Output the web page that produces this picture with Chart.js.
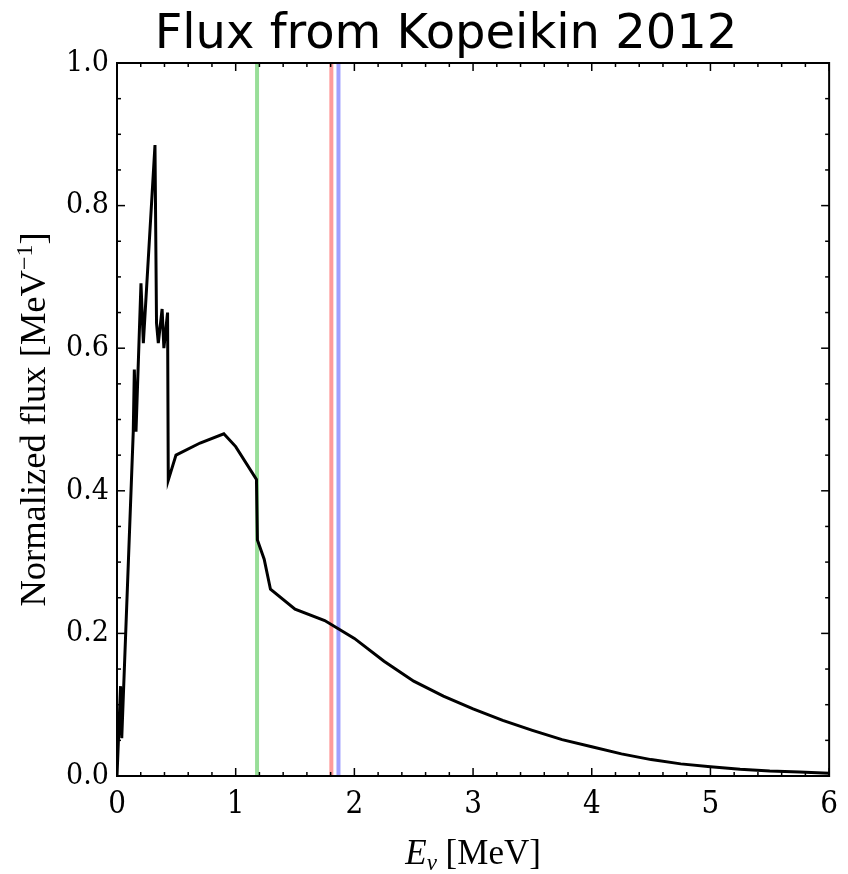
<!DOCTYPE html>
<html>
<head>
<meta charset="utf-8">
<title>Flux from Kopeikin 2012</title>
<script src="https://cdn.jsdelivr.net/npm/chart.js@4.4.1/dist/chart.umd.min.js"></script>
<style>
  html, body { margin: 0; padding: 0; background: #fff; }
  canvas { display: block; }
</style>
</head>
<body>
<canvas id="fluxChart" width="848" height="874"></canvas>
<script>
// neutrino energy [MeV] and normalized flux
const energy = [0, 0.03, 0.04, 0.137, 0.146, 0.16, 0.202, 0.222, 0.32, 0.333, 0.348, 0.38, 0.395, 0.426, 0.432,
  0.497, 0.7, 0.9, 1.0, 1.175, 1.183, 1.24, 1.293, 1.5, 1.75, 2.0, 2.25, 2.5, 2.75, 3.0, 3.25, 3.5, 3.75,
  4.0, 4.25, 4.5, 4.75, 5.0, 5.25, 5.5, 5.75, 6.0];
const flux = [0, 0.126, 0.053, 0.483, 0.57, 0.483, 0.691, 0.607, 0.885, 0.635, 0.607, 0.655, 0.600, 0.650, 0.415,
  0.450, 0.467, 0.480, 0.462, 0.416, 0.331, 0.304, 0.262, 0.234, 0.218, 0.193, 0.161, 0.133, 0.112, 0.094, 0.078, 0.064, 0.051,
  0.041, 0.031, 0.023, 0.017, 0.013, 0.0095, 0.007, 0.0055, 0.004];

// vertical marker lines
const markerEnergies = [1.18, 1.806, 1.866];
const markerColors = ['rgb(152,222,152)', 'rgb(255,155,155)', 'rgb(160,160,255)'];

const xTicks = [0, 1, 2, 3, 4, 5, 6];
const yTicks = [0.0, 0.2, 0.4, 0.6, 0.8, 1.0];
const xMinorStep = 0.2;
const yMinorStep = 0.05;

const curve = energy.map((e, i) => ({ x: e, y: flux[i] }));

const markerSets = markerEnergies.map((e, i) => ({
  data: [{ x: e, y: 0 }, { x: e, y: 1 }],
  borderColor: markerColors[i],
  borderWidth: 4,
  pointRadius: 0,
  order: 2
}));

const tickFont = '"DejaVu Serif Condensed", "DejaVu Serif"';

// inward ticks on all four sides, box, title and axis titles
const frameTicks = {
  id: 'frameTicks',
  afterDatasetsDraw(chart) {
    const { ctx, chartArea: { left, right, top, bottom }, scales: { x, y } } = chart;
    ctx.save();
    ctx.strokeStyle = '#000';
    ctx.lineWidth = 1.5;
    const seg = (x1, y1, x2, y2) => { ctx.beginPath(); ctx.moveTo(x1, y1); ctx.lineTo(x2, y2); ctx.stroke(); };

    const nx = Math.round((x.max - x.min) / xMinorStep);
    for (let i = 0; i <= nx; i++) {
      const v = x.min + i * xMinorStep;
      const px = x.getPixelForValue(v);
      const major = xTicks.some(t => Math.abs(t - v) < 1e-6);
      const len = major ? 8 : 4;
      seg(px, bottom, px, bottom - len);
      seg(px, top, px, top + len);
    }
    const ny = Math.round((y.max - y.min) / yMinorStep);
    for (let i = 0; i <= ny; i++) {
      const v = y.min + i * yMinorStep;
      const py = y.getPixelForValue(v);
      const major = yTicks.some(t => Math.abs(t - v) < 1e-6);
      const len = major ? 8 : 4;
      seg(left, py, left + len, py);
      seg(right, py, right - len, py);
    }

    ctx.lineWidth = 2;
    ctx.strokeRect(left, top, right - left, bottom - top);

    ctx.fillStyle = '#000';
    ctx.textBaseline = 'alphabetic';

    // title
    ctx.textAlign = 'center';
    ctx.font = '48px "DejaVu Sans"';
    ctx.fillText('Flux from Kopeikin 2012', 446, 48);

    // x title: E_nu [MeV]
    ctx.textAlign = 'left';
    const f1 = 'italic 35px "Liberation Serif"';
    const f2 = 'italic 23px "Liberation Serif"';
    const f3 = '35px "Liberation Serif"';
    ctx.font = f1; const wE = ctx.measureText('E').width;
    ctx.font = f2; const wNu = ctx.measureText('ν').width;
    ctx.font = f3; const wRest = ctx.measureText(' [MeV]').width;
    let cx = (left + right) / 2 - (wE + wNu + wRest) / 2;
    const by = 864;
    ctx.font = f1; ctx.fillText('E', cx, by); cx += wE;
    ctx.font = f2; ctx.fillText('ν', cx, by + 6); cx += wNu;
    ctx.font = f3; ctx.fillText(' [MeV]', cx, by);

    // y title: Normalized flux [MeV^-1]
    ctx.translate(45, (top + bottom) / 2);
    ctx.rotate(-Math.PI / 2);
    const g1 = '36.5px "Liberation Serif"';
    const g2 = '24px "Liberation Serif"';
    ctx.font = g1; const wa = ctx.measureText('Normalized flux [MeV').width;
    ctx.font = g2; const wb = ctx.measureText('−1').width;
    ctx.font = g1; const wc = ctx.measureText(']').width;
    let tx = -(wa + wb + wc) / 2;
    ctx.font = g1; ctx.fillText('Normalized flux [MeV', tx, 0); tx += wa;
    ctx.font = g2; ctx.fillText('−1', tx, -13); tx += wb;
    ctx.font = g1; ctx.fillText(']', tx, 0);
    ctx.restore();
  }
};

new Chart(document.getElementById('fluxChart'), {
  type: 'line',
  data: {
    datasets: [{
      data: curve,
      borderColor: '#000',
      borderWidth: 3,
      pointRadius: 0,
      tension: 0,
      order: 1
    }, ...markerSets]
  },
  options: {
    responsive: false,
    animation: false,
    layout: { padding: { left: 0, right: 18, top: 63, bottom: 0 } },
    plugins: {
      legend: { display: false },
      tooltip: { enabled: false },
      title: { display: false }
    },
    scales: {
      x: {
        type: 'linear',
        min: 0,
        max: 6,
        afterFit(scale) { scale.height = 98; },
        afterBuildTicks(scale) { scale.ticks = xTicks.map(v => ({ value: v })); },
        grid: { display: false, drawTicks: false },
        border: { display: false },
        ticks: {
          color: '#000',
          padding: 10,
          maxRotation: 0,
          font: { family: tickFont, size: 31 },
          callback: v => String(v)
        }
      },
      y: {
        type: 'linear',
        min: 0,
        max: 1,
        afterFit(scale) { scale.width = 117; },
        afterBuildTicks(scale) { scale.ticks = yTicks.map(v => ({ value: v })); },
        grid: { display: false, drawTicks: false },
        border: { display: false },
        ticks: {
          color: '#000',
          padding: 8,
          font: { family: tickFont, size: 30 },
          callback: v => Number(v).toFixed(1)
        }
      }
    }
  },
  plugins: [frameTicks]
});
</script>
</body>
</html>
